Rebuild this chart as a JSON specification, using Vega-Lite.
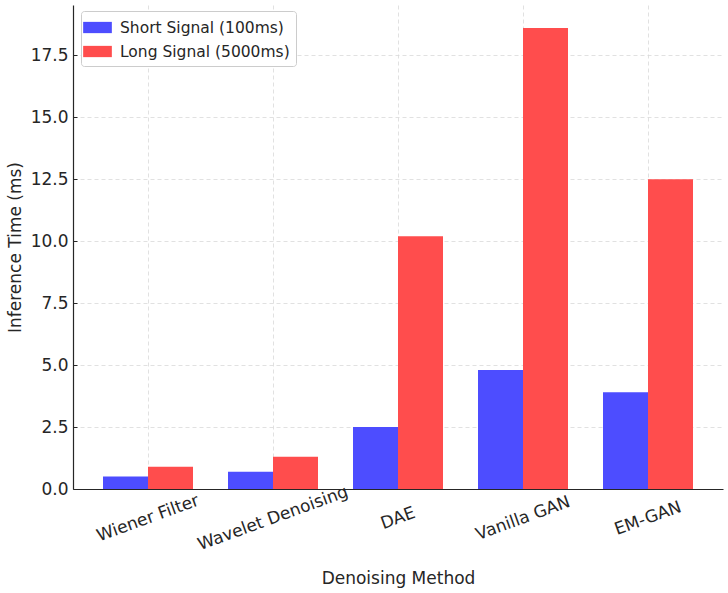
{
  "$schema": "https://vega.github.io/schema/vega-lite/v6.json",
  "width": 650,
  "height": 484,
  "autosize": {"type": "none"},
  "padding": {"left": 73, "top": 5, "right": 5, "bottom": 104},
  "background": "white",
  "config": {
    "font": "DejaVu Sans",
    "view": {"stroke": null},
    "axis": {
      "labelFont": "DejaVu Sans",
      "titleFont": "DejaVu Sans",
      "labelFontSize": 17,
      "titleFontSize": 17,
      "titleFontWeight": "normal",
      "labelColor": "#262626",
      "titleColor": "#262626",
      "domainColor": "#262626",
      "domainWidth": 1.2,
      "tickColor": "#262626",
      "gridColor": "#d9d9d9",
      "gridDash": [4, 3],
      "gridWidth": 0.8
    }
  },
  "data": {
    "values": [
      {"method": "Wiener Filter", "signal": "Short Signal (100ms)", "time": 0.5},
      {"method": "Wiener Filter", "signal": "Long Signal (5000ms)", "time": 0.9},
      {"method": "Wavelet Denoising", "signal": "Short Signal (100ms)", "time": 0.7},
      {"method": "Wavelet Denoising", "signal": "Long Signal (5000ms)", "time": 1.3},
      {"method": "DAE", "signal": "Short Signal (100ms)", "time": 2.5},
      {"method": "DAE", "signal": "Long Signal (5000ms)", "time": 10.2},
      {"method": "Vanilla GAN", "signal": "Short Signal (100ms)", "time": 4.8},
      {"method": "Vanilla GAN", "signal": "Long Signal (5000ms)", "time": 18.6},
      {"method": "EM-GAN", "signal": "Short Signal (100ms)", "time": 3.9},
      {"method": "EM-GAN", "signal": "Long Signal (5000ms)", "time": 12.5}
    ]
  },
  "mark": {"type": "bar"},
  "encoding": {
    "x": {
      "field": "method",
      "type": "nominal",
      "sort": null,
      "title": "Denoising Method",
      "scale": {"paddingInner": 0.28, "paddingOuter": 0.24},
      "axis": {
        "labelAngle": -20,
        "labelAlign": "center",
        "labelBaseline": "middle",
        "labelPadding": 33,
        "labelLimit": 0,
        "tickSize": -4,
        "grid": true,
        "titleY": 89,
        "titleBaseline": "middle"
      }
    },
    "xOffset": {
      "field": "signal",
      "type": "nominal",
      "sort": ["Short Signal (100ms)", "Long Signal (5000ms)"]
    },
    "y": {
      "field": "time",
      "type": "quantitative",
      "title": "Inference Time (ms)",
      "scale": {"domain": [0, 19.53], "nice": false},
      "axis": {
        "values": [0, 2.5, 5, 7.5, 10, 12.5, 15, 17.5],
        "format": ".1f",
        "tickSize": -4,
        "labelPadding": 9,
        "titleX": -58,
        "titleBaseline": "middle",
        "grid": true
      }
    },
    "color": {
      "field": "signal",
      "type": "nominal",
      "sort": ["Short Signal (100ms)", "Long Signal (5000ms)"],
      "scale": {
        "domain": ["Short Signal (100ms)", "Long Signal (5000ms)"],
        "range": ["#4d4dff", "#ff4d4d"]
      },
      "legend": {
        "title": null,
        "orient": "none",
        "legendX": 8,
        "legendY": 6,
        "symbolType": "M-1.4,-0.55H1.4V0.55H-1.4Z",
        "symbolSize": 420,
        "symbolStrokeWidth": 0,
        "symbolOpacity": 1,
        "labelFontSize": 15.5,
        "labelLimit": 0,
        "labelFont": "DejaVu Sans",
        "labelColor": "#262626",
        "labelOffset": 12,
        "rowPadding": 5,
        "padding": 6,
        "fillColor": "white",
        "strokeColor": "#cccccc",
        "cornerRadius": 3
      }
    }
  }
}
